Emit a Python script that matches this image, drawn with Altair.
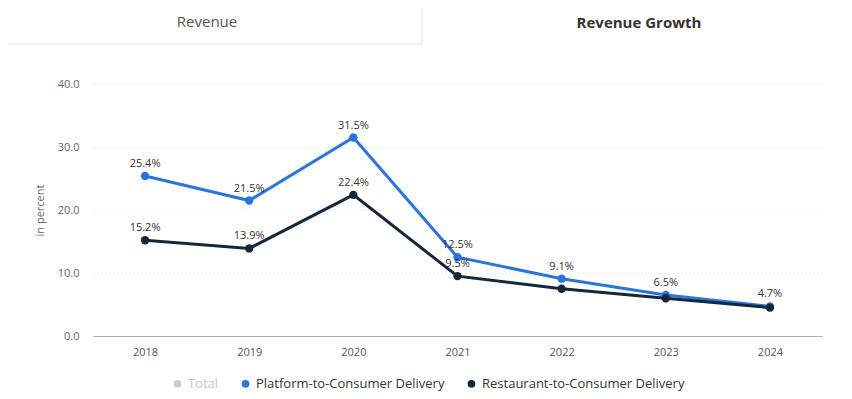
import altair as alt
import pandas as pd

years = ["2018", "2019", "2020", "2021", "2022", "2023", "2024"]
platform = [25.4, 21.5, 31.5, 12.5, 9.1, 6.5, 4.7]
restaurant = [15.2, 13.9, 22.4, 9.5, 7.5, 6.0, 4.5]
platform_labels = ["25.4%", "21.5%", "31.5%", "12.5%", "9.1%", "6.5%", "4.7%"]
restaurant_labels = ["15.2%", "13.9%", "22.4%", "9.5%", "", "", ""]
series_names = ["Total", "Platform-to-Consumer Delivery", "Restaurant-to-Consumer Delivery"]
series_colors = ["#cccccc", "#2876dd", "#14273b"]
y_ticks = [0, 10, 20, 30, 40]

rows = []
for i, y in enumerate(years):
    rows.append({"year": y, "series": series_names[1], "value": platform[i], "label": platform_labels[i]})
    rows.append({"year": y, "series": series_names[2], "value": restaurant[i], "label": restaurant_labels[i]})
df = pd.DataFrame(rows)

FONT = "Open Sans"

x_enc = alt.X("year:N", sort=years,
              scale=alt.Scale(type="point", padding=0.5),
              axis=alt.Axis(title=None, labelAngle=0, ticks=False, grid=False,
                            domainColor="#b0b0b0", labelColor="#555555",
                            labelFontSize=11, labelPadding=10, labelFont=FONT))
y_enc = alt.Y("value:Q", scale=alt.Scale(domain=[0, 40], nice=False),
              axis=alt.Axis(title="in percent", values=y_ticks, format=".1f",
                            domain=False, ticks=False, grid=True,
                            gridColor="#dddddd", gridDash=[1, 3],
                            labelColor="#666666", labelFontSize=11, labelPadding=14,
                            labelFont=FONT, titleFont=FONT, titleFontWeight="normal",
                            titleFontSize=11, titleColor="#666666", titlePadding=12))
color_enc = alt.Color("series:N",
                      scale=alt.Scale(domain=series_names, range=series_colors),
                      legend=alt.Legend(title=None, orient="none", direction="horizontal",
                                        legendX=78, legendY=293,
                                        symbolType="circle", symbolSize=60,
                                        labelFont=FONT, labelFontSize=13, labelLimit=0,
                                        labelColor={"expr": "datum.label == 'Total' ? '#c8c8c8' : '#333333'"},
                                        columnPadding=20, symbolStrokeWidth=0))

base = alt.Chart(df)
lines = base.mark_line(strokeWidth=3).encode(x=x_enc, y=y_enc, color=color_enc)
points = base.mark_point(filled=True, size=70, opacity=1).encode(
    x=x_enc, y=y_enc, color=alt.Color("series:N", scale=alt.Scale(domain=series_names, range=series_colors), legend=None))
labels = base.mark_text(dy=-12, fontSize=11, font=FONT, color="#333333").encode(
    x=x_enc, y=y_enc, text="label:N")

deco = pd.DataFrame({"a": [0]})
tab_bottom = alt.Chart(deco).mark_rule(color="#e4e4e4", strokeWidth=1).encode(
    x=alt.value(-93), x2=alt.value(329), y=alt.value(-40))
tab_right = alt.Chart(deco).mark_rule(color="#e4e4e4", strokeWidth=1).encode(
    x=alt.value(329), y=alt.value(-84), y2=alt.value(-40))
tab1 = alt.Chart(deco).mark_text(fontSize=15, font=FONT, color="#555555").encode(
    x=alt.value(114), y=alt.value(-62), text=alt.value("Revenue"))
tab2 = alt.Chart(deco).mark_text(fontSize=15, font=FONT, fontWeight="bold", color="#333333").encode(
    x=alt.value(546), y=alt.value(-61), text=alt.value("Revenue Growth"))

chart = alt.layer(lines, points, labels, tab_bottom, tab_right, tab1, tab2).properties(
    width=729, height=252,
    padding={"left": 85, "top": 76, "right": 22, "bottom": 55},
    autosize="none",
).configure_view(stroke=None)

chart.save("out.html", embed_options={"renderer": "svg", "actions": False})
